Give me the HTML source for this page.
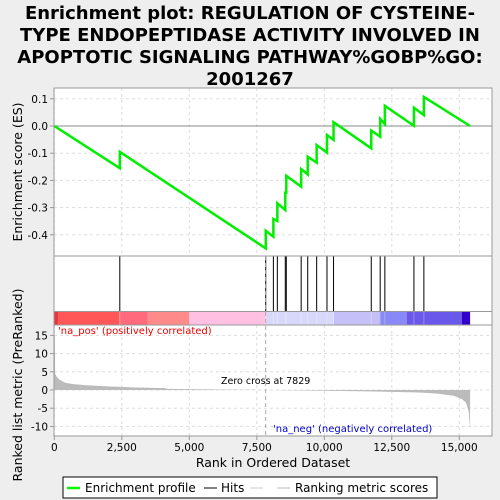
<!DOCTYPE html>
<html><head><meta charset="utf-8"><style>
body{margin:0;background:#eeeeee;}
svg{display:block;font-family:"DejaVu Sans","Liberation Sans",sans-serif;}
</style></head><body>
<svg id="chart" width="500" height="500" viewBox="0 0 500 500">
<g font-weight="bold" font-size="18" text-anchor="middle" fill="#000">
<text x="250" y="19">Enrichment plot: REGULATION OF CYSTEINE-</text>
<text x="250" y="41">TYPE ENDOPEPTIDASE ACTIVITY INVOLVED IN</text>
<text x="250" y="63">APOPTOTIC SIGNALING PATHWAY%GOBP%GO:</text>
<text x="250" y="85">2001267</text>
</g>
<rect x="54" y="88" width="438" height="348" fill="#fff"/>
<g id="grid"></g>
<g id="colorbar"></g>
<g id="marks"></g>
<g id="frames" fill="none" stroke="#999"></g>
<g id="axes" font-size="10.5" fill="#000"></g>
<text x="58" y="334" font-size="10" fill="#e00">'na_pos' (positively correlated)</text>
<text x="273" y="432" font-size="10" fill="#00c">'na_neg' (negatively correlated)</text>
<text x="221" y="384" font-size="9.5" fill="#000">Zero cross at 7829</text>
<text transform="translate(22,172) rotate(-90)" text-anchor="middle" font-size="12.5">Enrichment score (ES)</text>
<text transform="translate(22,385) rotate(-90)" text-anchor="middle" font-size="12.5">Ranked list metric (PreRanked)</text>
<text x="273" y="467" text-anchor="middle" font-size="12.5">Rank in Ordered Dataset</text>
<g>
<rect x="63" y="477" width="374" height="21" fill="#fff" stroke="#000"/>
<line x1="67" y1="488" x2="80" y2="488" stroke="#0f0" stroke-width="2.5"/>
<text x="85" y="492" font-size="12">Enrichment profile</text>
<line x1="204" y1="488" x2="217" y2="488" stroke="#000"/>
<text x="221" y="492" font-size="12">Hits</text>
<line x1="250" y1="488" x2="263" y2="488" stroke="#ccc"/>
<line x1="277" y1="488" x2="290" y2="488" stroke="#bbb"/>
<text x="295" y="492" font-size="12">Ranking metric scores</text>
</g>
</svg>
<script>
const hitRanks=[2426,7831,8114,8261,8555,8592,9143,9386,9717,10099,10342,11739,12070,12243,13320,13688];
const esBefore=[-0.155,-0.45,-0.407,-0.349,-0.309,-0.245,-0.223,-0.178,-0.135,-0.098,-0.051,-0.082,-0.039,0.007,0.001,0.04];
const esAfter=[-0.095,-0.385,-0.342,-0.284,-0.245,-0.183,-0.158,-0.113,-0.070,-0.033,0.014,-0.017,0.026,0.074,0.067,0.107];
const maxRank=15400;
const metricRanks=[0,20,30,100,200,400,700,1200,2000,3000,4100,4200,5000,6500,7829,9000,11000,12500,13500,14200,14800,15100,15250,15350,15400];
const metricVals=[15,15,4.5,3.5,2.8,2.0,1.6,1.3,1.0,0.7,0.5,0.3,0.25,0.12,0,-0.1,-0.3,-0.5,-0.7,-1.0,-1.6,-2.5,-3.5,-6,-11];
const xTicks=[0,2500,5000,7500,10000,12500,15000];
const xTickLabels=["0","2,500","5,000","7,500","10,000","12,500","15,000"];
const esTicks=[0.1,0.0,-0.1,-0.2,-0.3,-0.4];
const esTickLabels=["0.1","0.0","-0.1","-0.2","-0.3","-0.4"];
const mTicks=[15,10,5,0,-5,-10];
const zeroCross=7829;
const NS="http://www.w3.org/2000/svg";
const X=r=>54.3+r*0.027;
const YE=v=>126-v*272;
const YM=v=>390-v*3.64;
function mk(tag,attrs,parent){const e=document.createElementNS(NS,tag);for(const k in attrs)e.setAttribute(k,attrs[k]);parent.appendChild(e);return e;}
const grid=document.getElementById('grid'),marks=document.getElementById('marks'),axes=document.getElementById('axes'),frames=document.getElementById('frames'),cb=document.getElementById('colorbar');
xTicks.forEach(t=>{[[88,256],[325,436]].forEach(([a,b])=>{const l=mk('line',{x1:X(t),x2:X(t),y1:a,y2:b,stroke:'#ddd','stroke-dasharray':'3,3'},grid);});});
esTicks.forEach(t=>{const l=mk('line',{x1:54,x2:492,y1:YE(t),y2:YE(t),stroke:t===0?'#888':'#ddd','stroke-dasharray':t===0?'':'3,3'},grid);});
mTicks.forEach(t=>{const l=mk('line',{x1:54,x2:492,y1:YM(t),y2:YM(t),stroke:'#ddd','stroke-dasharray':'3,3'},grid);});
const segs=[[0,150,'#e8383d'],[150,2400,'#ff5757'],[2400,3450,'#ff6b7d'],[3450,5000,'#ff8a8a'],[5000,7830,'#ffc0e2'],[7830,10350,'#d8d8fb'],[10350,12050,'#c6c0f8'],[12050,13050,'#8888f6'],[13050,15100,'#6a58ea'],[15100,15400,'#3300cc']];
segs.forEach(s=>{const r=mk('rect',{x:X(s[0]),y:311.5,width:X(s[1])-X(s[0]),height:13.5,fill:s[2]},cb);});
hitRanks.forEach(h=>{const l=mk('line',{x1:X(h),x2:X(h),y1:256,y2:311,stroke:'#000','stroke-width':1},marks);
const c=mk('line',{x1:X(h),x2:X(h),y1:311.5,y2:325,stroke:'#fff','stroke-opacity':0.3},marks);});
let d='M'+X(0)+','+YM(0);
metricRanks.forEach((r,i)=>{d+=' L'+X(r)+','+YM(metricVals[i]);});
d+=' L'+X(maxRank)+','+YM(0)+' Z';
const area=mk('path',{d:d,fill:'#bbb',stroke:'none'},marks);


const zc=mk('line',{x1:X(zeroCross),x2:X(zeroCross),y1:256,y2:436,stroke:'#aaa','stroke-dasharray':'4,3'},marks);


let pts=[[X(0),YE(0)]];
hitRanks.forEach((h,i)=>{pts.push([X(h),YE(esBefore[i])]);pts.push([X(h),YE(esAfter[i])]);});
pts.push([X(maxRank),YE(0)]);
const es=mk('polyline',{points:pts.map(p=>p.join(',')).join(' '),fill:'none',stroke:'#00ee00','stroke-width':2.5},marks);


[[54,88,438,168],[54,256,438,55.5],[54,311.5,438,13.5],[54,325,438,111]].forEach(f=>{const r=mk('rect',{x:f[0],y:f[1],width:f[2],height:f[3]},frames);});
xTicks.forEach((t,i)=>{mk('line',{x1:X(t),x2:X(t),y1:436,y2:440,stroke:'#999'},axes);const tx=mk('text',{x:X(t),y:451,'text-anchor':'middle'},axes);tx.textContent=xTickLabels[i];});
esTicks.forEach((t,i)=>{mk('line',{x1:50,x2:54,y1:YE(t),y2:YE(t),stroke:'#999'},axes);const tx=mk('text',{x:48,y:YE(t)+4,'text-anchor':'end'},axes);tx.textContent=esTickLabels[i];});
mTicks.forEach(t=>{mk('line',{x1:50,x2:54,y1:YM(t),y2:YM(t),stroke:'#999'},axes);const tx=mk('text',{x:48,y:YM(t)+4,'text-anchor':'end'},axes);tx.textContent=String(t);});
</script>
</body></html>
